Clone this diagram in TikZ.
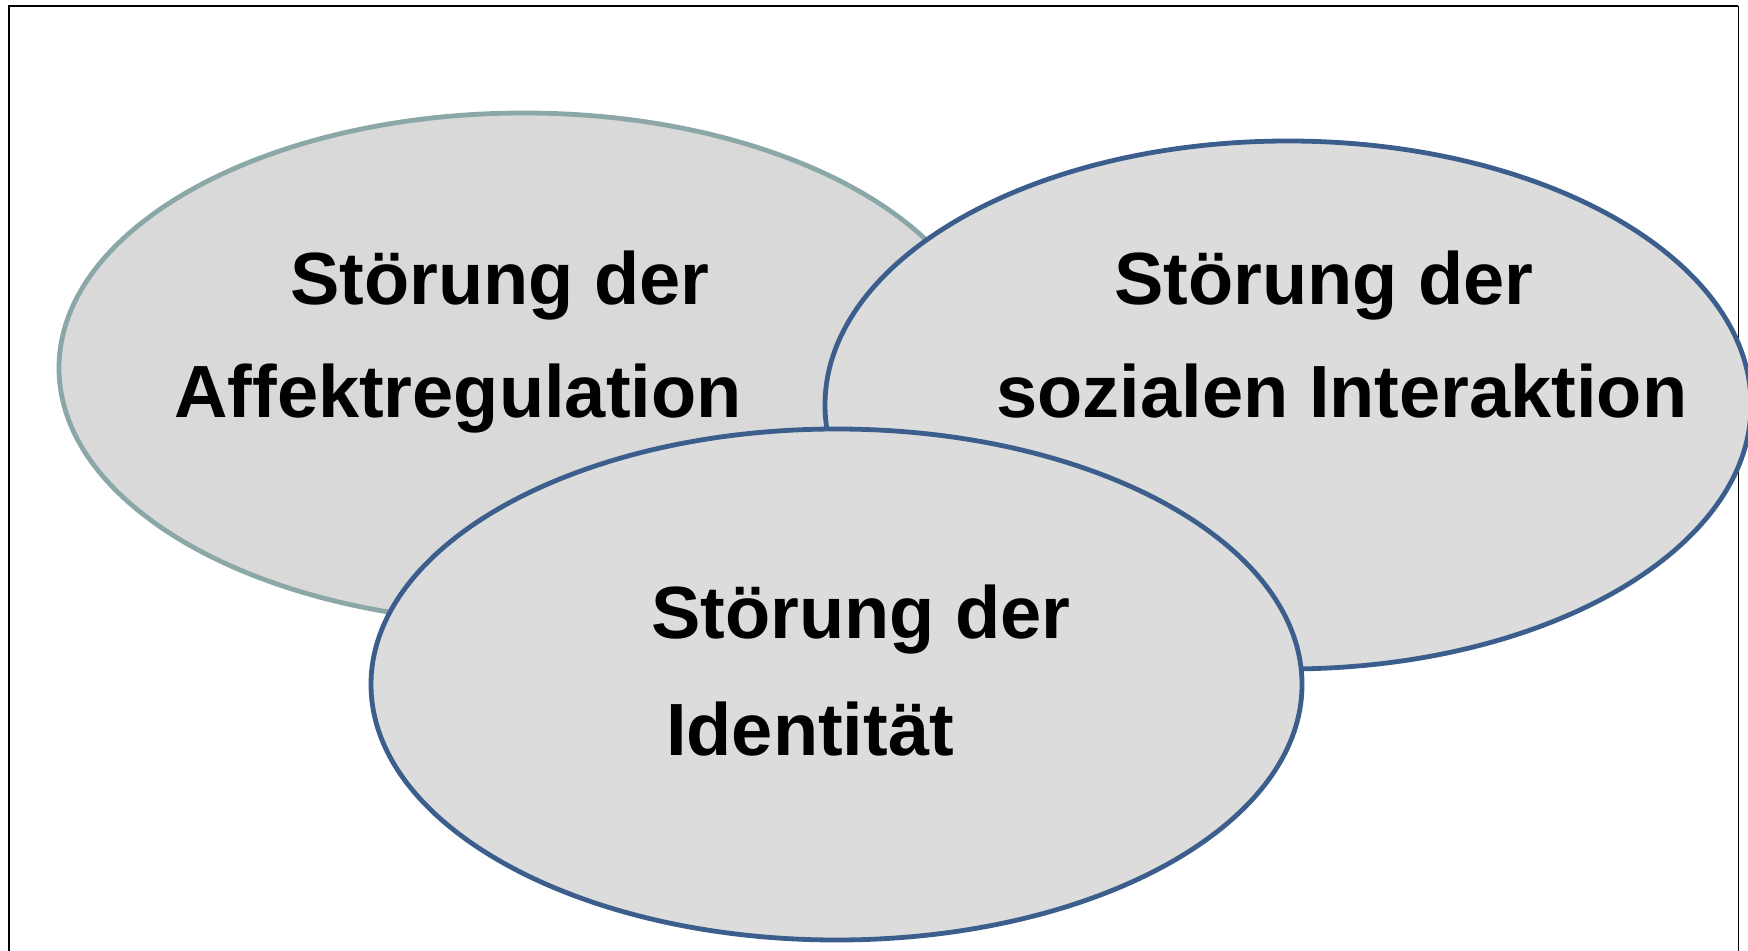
\documentclass[tikz,border=0pt]{standalone}
\usepackage{fontspec}
\setmainfont{Liberation Sans}
\usetikzlibrary{shapes.geometric}
\definecolor{fillgray}{HTML}{DCDCDC}
\definecolor{fillgrayA}{HTML}{D9D9D9}
\definecolor{tealgray}{HTML}{8BA7A8}
\definecolor{bluegray}{HTML}{3B5E8C}
\begin{document}
\begin{tikzpicture}[x=0.5pt,y=-0.5pt,
  blob/.style={ellipse, fill=fillgray, line width=2.4pt, inner sep=0pt},
  lbl/.style={anchor=base, font=\fontsize{37}{44}\selectfont\bfseries, inner sep=0pt, text=black}]
\useasboundingbox (0,0) rectangle (1748,951);
% frame
\draw[line width=1pt] (9,1000) -- (9,6) -- (1738,6);
\draw[line width=0.5pt] (1738,6) -- (1738,1000);
% ellipses
\node[blob, draw=tealgray, fill=fillgrayA, minimum width=465pt, minimum height=255pt] (affekt) at (524,368) {};
\node[blob, draw=bluegray, minimum width=463pt, minimum height=264pt] (sozial) at (1288,405) {};
\node[blob, draw=bluegray, minimum width=465.5pt, minimum height=255.5pt] (ident) at (836.5,684.5) {};
% labels
\node[lbl] (a1) at (500,305) {Störung der};
\node[lbl] (a2) at (458,418) {Affektregulation};
\node[lbl] (b1) at (1324,305) {Störung der};
\node[lbl] (b2) at (1342,418) {sozialen Interaktion};
\node[lbl] (c1) at (861,638) {Störung der};
\node[lbl] (c2) at (810,755) {Identität};
\end{tikzpicture}
\end{document}
